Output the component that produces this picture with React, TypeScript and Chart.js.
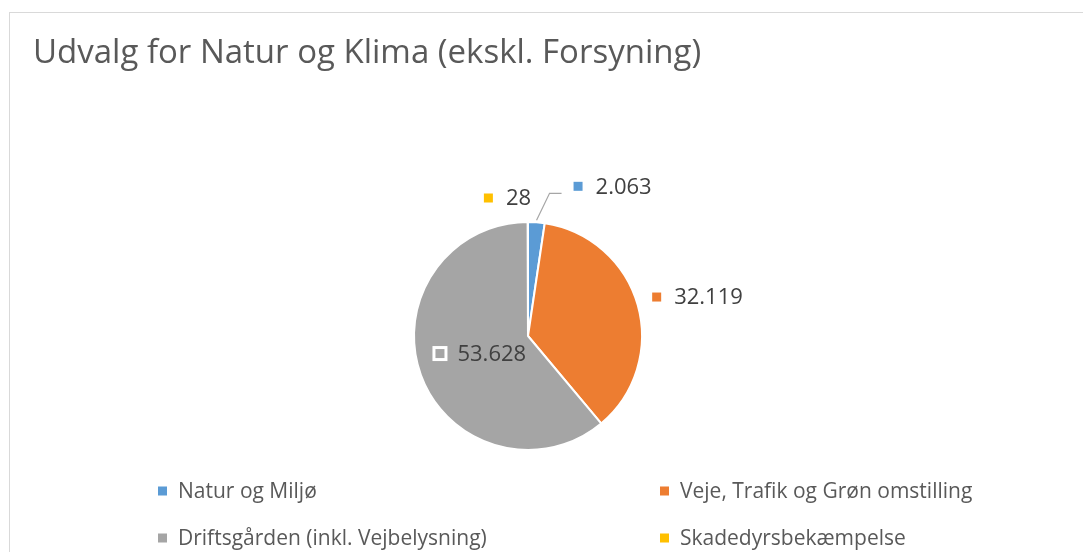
import React, { useEffect, useRef } from 'react';
import { Chart, registerables } from 'chart.js';

Chart.register(...registerables);

const chartTitle = 'Udvalg for Natur og Klima (ekskl. Forsyning)';
const categories = [
  'Natur og Miljø',
  'Veje, Trafik og Grøn omstilling',
  'Driftsgården (inkl. Vejbelysning)',
  'Skadedyrsbekæmpelse',
];
const values = [2063, 32119, 53628, 28];
const colors = ['#5B9BD5', '#ED7D31', '#A5A5A5', '#FFC000'];

const FONT = '"Open Sans", Lato, "DejaVu Sans", sans-serif';
const W = 1083;
const H = 552;

function fmt(v: number): string {
  return String(v).replace(/\B(?=(\d{3})+(?!\d))/g, '.');
}

// layout of each data label (index-aligned with categories)
const labelLayout: any[] = [
  { mode: 'leader', out: 2, elbow: [13, -27], end: [25, -27], label: [37, -34] },
  { mode: 'radial', beyond: 15, dx: 0, dy: -4, align: 'left' },
  { mode: 'inside', frac: 0.45, dx: 1, dy: 0, align: 'center' },
  { mode: 'edge', dx: -44, dy: -24, align: 'left' },
];

const legendCols = [158, 660];
const legendRows = [491, 538];

function drawKey(ctx: CanvasRenderingContext2D, x: number, cy: number, color: string, size: number, stroke: boolean) {
  ctx.save();
  if (stroke) {
    ctx.fillStyle = '#FFFFFF';
    ctx.fillRect(x - 3, cy - size / 2 - 3, size + 6, size + 6);
  }
  ctx.fillStyle = color;
  ctx.fillRect(x, cy - size / 2, size, size);
  ctx.restore();
}

const overlayPlugin = {
  id: 'overlay',
  afterDraw(chart: any) {
    const ctx: CanvasRenderingContext2D = chart.ctx;
    ctx.save();
    // title
    ctx.font = `33px ${FONT}`;
    ctx.fillStyle = '#595959';
    ctx.textBaseline = 'alphabetic';
    ctx.textAlign = 'left';
    ctx.fillText(chartTitle, 33, 63);

    // data labels
    const meta = chart.getDatasetMeta(0);
    const ds = chart.data.datasets[0];
    ctx.font = `22px ${FONT}`;
    ctx.textBaseline = 'middle';
    meta.data.forEach((arc: any, i: number) => {
      const p = arc.getProps(['x', 'y', 'startAngle', 'endAngle', 'outerRadius'], true);
      const mid = (p.startAngle + p.endAngle) / 2;
      const ux = Math.cos(mid);
      const uy = Math.sin(mid);
      const text = fmt(ds.data[i]);
      const tw = ctx.measureText(text).width;
      const blockW = 22 + tw;
      const L = labelLayout[i];
      let left = 0;
      let cy = 0;
      if (L.mode === 'inside') {
        const px = p.x + ux * p.outerRadius * L.frac + L.dx;
        const py = p.y + uy * p.outerRadius * L.frac + L.dy;
        left = px - blockW / 2;
        cy = py;
      } else if (L.mode === 'radial') {
        const d = p.outerRadius + L.beyond;
        left = p.x + ux * d + L.dx;
        cy = p.y + uy * d + L.dy;
      } else if (L.mode === 'edge') {
        const ex = p.x + ux * p.outerRadius;
        const ey = p.y + uy * p.outerRadius;
        left = ex + L.dx;
        cy = ey + L.dy;
      } else if (L.mode === 'leader') {
        const sx = p.x + ux * (p.outerRadius + L.out);
        const sy = p.y + uy * (p.outerRadius + L.out);
        ctx.save();
        ctx.strokeStyle = '#A6A6A6';
        ctx.lineWidth = 1.2;
        ctx.beginPath();
        ctx.moveTo(sx, sy);
        ctx.lineTo(sx + L.elbow[0], sy + L.elbow[1]);
        ctx.lineTo(sx + L.end[0], sy + L.end[1]);
        ctx.stroke();
        ctx.restore();
        left = sx + L.label[0];
        cy = sy + L.label[1];
      }
      drawKey(ctx, left, cy, colors[i], 9, L.mode === 'inside');
      ctx.fillStyle = '#404040';
      ctx.textAlign = 'left';
      ctx.fillText(text, left + 22, cy + 1);
    });

    // legend (2 columns)
    ctx.font = `21px ${FONT}`;
    ctx.textBaseline = 'middle';
    chart.data.labels.forEach((lab: string, i: number) => {
      const x = legendCols[i % 2];
      const y = legendRows[Math.floor(i / 2)];
      drawKey(ctx, x, y, colors[i], 9, false);
      ctx.fillStyle = '#595959';
      ctx.fillText(lab, x + 20, y + 1);
    });
    ctx.restore();
  },
};

export default function App() {
  const ref = useRef<HTMLCanvasElement | null>(null);
  useEffect(() => {
    document.body.style.margin = '0';
    document.documentElement.style.overflow = 'hidden';
    const canvas = ref.current;
    if (!canvas) return;
    const chart = new Chart(canvas, {
      type: 'pie',
      data: {
        labels: categories,
        datasets: [
          {
            data: values,
            backgroundColor: colors,
            borderColor: '#FFFFFF',
            borderWidth: 2,
          },
        ],
      },
      options: {
        responsive: false,
        devicePixelRatio: 1,
        animation: false,
        layout: { padding: { left: 300, right: 327, top: 221, bottom: 101 } },
        plugins: {
          legend: { display: false },
          title: { display: false },
          tooltip: { enabled: false },
        },
      },
      plugins: [overlayPlugin],
    } as any);
    return () => chart.destroy();
  }, []);
  return (
    <div style={{ position: 'fixed', left: 0, top: 0, width: W, height: H, overflow: 'hidden', background: '#FFFFFF' }}>
      <div
        style={{
          position: 'absolute',
          left: 9,
          top: 12,
          width: 1100,
          height: 600,
          border: '1.5px solid #D9D9D9',
          boxSizing: 'border-box',
        }}
      />
      <canvas ref={ref} width={W} height={H} style={{ position: 'absolute', left: 0, top: 0, width: W, height: H }} />
    </div>
  );
}
